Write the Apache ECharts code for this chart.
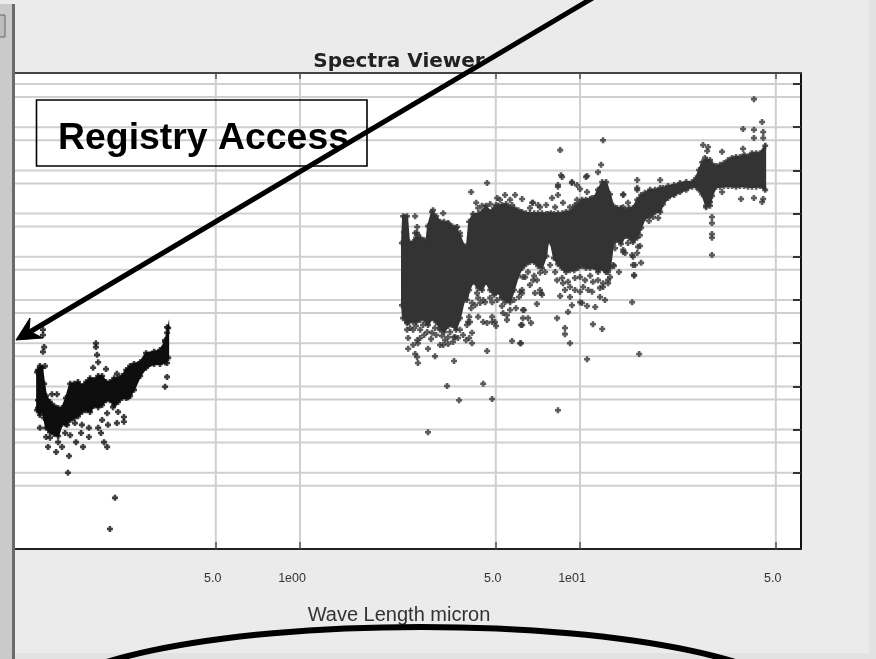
<!DOCTYPE html>
<html><head><meta charset="utf-8">
<style>html,body{margin:0;padding:0;background:#ebebeb}#c{width:876px;height:659px}</style>
<script src="https://cdn.jsdelivr.net/npm/echarts@6/dist/echarts.min.js"></script>
</head><body><div id="c"></div>
<script>
const xTickValues=[0.5,1,5,10,50];
const xTickLabels=['5.0','1e00','5.0','1e01','5.0'];
const yDecades=[1e5,1e4,1e3,1e2,1e1,1,1e-1,1e-2,1e-3,1e-4];
const yHalves=[5e4,5e3,5e2,5e1,5,0.5,5e-2,5e-3,5e-4,5e-5];
// dense parts of the clouds, read column by column (log10 micron, log10 flux)
const denseRightWave=[.364,.368,.382,.389,.404,.414,.429,.443,.45,.457,.471,.486,.5,.514,.529,.543,.557,.571,.586,.596,.604,.618,.636,.65,.664,.679,.693,.707,.721,.736,.75,.764,.779,.793,.807,.821,.836,.85,.864,.879,.886,.896,.907,.921,.936,.95,.964,.979,.993,1.007,1.021,1.036,1.05,1.064,1.079,1.093,1.107,1.118,1.132,1.146,1.161,1.175,1.189,1.204,1.218,1.232,1.25,1.268,1.286,1.296,1.314,1.336,1.357,1.379,1.4,1.414,1.425,1.436,1.45,1.464,1.471,1.486,1.5,1.514,1.529,1.543,1.557,1.571,1.586,1.6,1.614,1.629,1.643,1.661];
const denseRightHigh=[1.32,1.94,1.94,1.34,1.34,1.44,1.44,1.39,1.27,1.71,2.04,1.94,1.81,1.81,1.76,1.71,1.67,1.48,1.25,1.25,1.81,1.99,1.99,2.04,2.18,2.04,2.13,2.18,2.2,2.22,2.13,2.13,2.08,2.04,2.01,2.01,2.01,2.01,2.01,1.99,1.99,2.01,1.99,2.01,2.01,2.04,2.04,2.13,2.22,2.32,2.32,2.34,2.36,2.55,2.73,2.73,2.45,2.18,2.13,2.13,2.08,2.13,2.13,2.32,2.43,2.48,2.55,2.55,2.59,2.59,2.64,2.66,2.71,2.73,2.73,2.82,3.01,3.19,3.24,3.24,3.15,3.1,3.13,3.17,3.24,3.29,3.31,3.31,3.36,3.33,3.4,3.4,3.4,3.57];
const denseRightLow=[-.12,-.42,-.51,-.51,-.46,-.51,-.46,-.42,-.51,-.58,-.42,-.51,-.65,-.74,-.6,-.58,-.69,-.42,0,0,.23,.42,.28,.23,.42,.23,.12,.19,.05,0,-.05,.23,.56,.74,.83,.88,.88,.79,.74,1.02,1.39,1.32,.97,.83,.74,.65,.69,.69,.74,.79,.74,.74,.76,.65,.74,.65,.74,1.3,1.39,1.3,1.48,1.44,1.34,1.44,1.67,1.9,1.94,2.04,2.04,2.22,2.36,2.43,2.5,2.55,2.62,2.62,2.55,2.45,2.18,2.18,2.41,2.62,2.62,2.64,2.64,2.64,2.62,2.64,2.64,2.62,2.62,2.62,2.64,2.55];
const denseLeftWave=[-.939,-.929,-.921,-.914,-.907,-.893,-.879,-.864,-.85,-.836,-.821,-.807,-.793,-.779,-.764,-.75,-.736,-.721,-.707,-.693,-.679,-.664,-.65,-.636,-.621,-.607,-.593,-.571,-.55,-.521,-.5,-.482,-.471];
const denseLeftHigh=[-1.67,-1.53,-1.57,-1.94,-2.22,-2.36,-2.45,-2.5,-2.5,-2.27,-1.94,-1.94,-1.9,-1.99,-1.9,-1.81,-1.85,-1.76,-1.76,-1.9,-1.9,-1.81,-1.81,-1.76,-1.62,-1.53,-1.48,-1.44,-1.23,-1.2,-1.16,-.97,-.65];
const denseLeftLow=[-2.55,-2.66,-2.55,-2.73,-2.96,-3.06,-3.1,-3.15,-2.87,-2.87,-2.78,-2.73,-2.69,-2.59,-2.55,-2.59,-2.45,-2.48,-2.43,-2.32,-2.32,-2.43,-2.36,-2.27,-2.27,-2.22,-2.08,-1.76,-1.57,-1.48,-1.48,-1.44,-1.34];
// single readable points (log10 micron, log10 flux)
const pointsRight=[[.611,2.5],[.411,1.94],[.418,1.69],[.418,1.55],[.411,1.55],[.421,1.5],[.454,1.39],[.375,1.92],[.375,1.78],[.371,1.57],[.375,1.39],[.475,2.08],[.511,2.01],[.529,1.78],[.561,1.69],[.571,1.55],
[.382,-.53],[.404,-.51],[.382,-.69],[.404,-.69],[.429,-.69],[.439,-.58],[.471,-.76],[.454,-.74],[.482,-.65],[.507,-.83],[.468,-.9],[.529,-.86],[.55,-.86],[.571,-.69],[.596,-.58],[.607,-.51],[.614,-.76],[.604,-.88],[.614,-1],[.418,-.93],[.421,-1],[.404,-1.04],[.386,-1.13],[.457,-1.13],[.411,-1.25],[.418,-1.32],[.421,-1.46],[.482,-1.3],[.55,-1.41],[.668,-1.18],[.757,-.95],[.786,-1],[.511,-1.04],[.529,-1.02],[.546,-.97],[.554,-.86],[.525,-1.99],[.654,-1.94],[.568,-2.32],[.686,-2.29],[.457,-3.06],
[.636,-.39],[.654,-.51],[.668,-.53],[.686,-.39],[.686,-.51],[.696,-.51],[.7,-.6],[.643,-.07],[.661,-.05],[.686,-.05],[.632,.16],[.614,-.07],[.611,-.19],[.604,-.39],[.6,-.51],[.725,-.3],[.739,-.35],[.739,-.46],[.789,-.58],[.796,-.42],[.782,.07],[.793,.23],[.721,.07],[.732,-.05],
[.668,2.71],[.704,2.36],[.732,2.43],[.768,2.43],[.793,2.34],[.829,2.25],[.85,2.2],[.9,2.36],[.921,2.43],[.921,2.66],[.936,2.85],[.971,2.71],[.989,2.66],[1.025,2.87],[1.025,2.5],[1.064,2.96],[.989,2.32],[.964,2.15],
[.796,-.23],[.793,-.58],[.814,-.42],[.825,-.53],[.789,-1],[.796,.53],[.846,.46],[.857,.23],[.864,.12],[.846,-.09],[.786,.19],[.918,.46],[.918,-.42],[.946,-.65],[.946,-.79],[.964,-1],[1.025,-1.37],[1.046,-.56],[1.079,-.67],[.964,.07],[.971,-.12],[.957,-.28],[1,-.05],[1.025,-.14],[1.054,-.16],[1.071,.07],[1.1,.39],[1.107,.53],[.921,-2.55],[1.211,-1.25],[1.186,-.05],[1.193,.58],[1.139,.65],[1.118,.81],[1.161,1.09],[1.189,.81],
[1.082,3.7],[.929,3.47],[1.075,3.13],[1.021,2.85],[.932,2.89],[.971,2.73],[1,2.57],[.921,2.62],[.832,2.25],[1.043,2.36],[1.204,2.78],[1.204,2.55],[1.154,2.43],[1.171,2.25],[1.143,2.08],[.893,.81],[.864,1],[.8,-.23],[.861,.16],[.839,.16],[.832,.46],[.804,.53],[.793,.16],[.857,.63],[.939,.39],[.964,.3],[1.007,-.07],[1.089,0],[1.082,.3],[1.1,.46],[1.029,.23],[1.011,.3],[1,.53],[1.046,.42],[1.154,1.16],[1.171,1.32],[1.189,1],[1.207,1.23],[1.196,.81],[1.218,.86],
[1.621,4.65],[1.65,4.12],[1.582,3.96],[1.621,3.94],[1.621,3.75],[1.654,3.89],[1.654,3.75],[1.439,3.59],[1.457,3.54],[1.454,3.45],[1.507,3.43],[1.582,3.5],[1.446,3.29],[1.286,2.78],[1.204,2.59],[1.154,2.45],[1.154,2.15],[1.279,1.9],[1.246,1.83],[1.261,1.92],[1.471,1.92],[1.471,1.78],[1.471,1.53],[1.471,1.44],[1.471,1.04],[1.45,2.15],[1.464,2.27],[1.507,2.5],[1.575,2.34],[1.621,2.36],[1.65,2.27],[1.654,2.34],[1.214,1.25],[1.204,1.09],[1.186,1.04],[1.154,1.11],[1.193,.56],[1.121,.79],[1.089,.69],[1.082,.39],
[.814,.65],[.836,.56],[.821,.35],[.875,.65],[.911,.65],[.936,.51],[.957,.42],[.982,.51],[1.018,.46],[1.036,.56],[1.064,.46],[.982,.23],[.946,.23],[.929,.09],[1,.19],[1.043,.19],[1.071,.28],[1.1,.65],
[.393,-.65],[.414,-.6],[.443,-.81],[.486,-.81],[.5,-.69],[.518,-.93],[.536,-.74],[.564,-.88],[.582,-.81],[.593,-.93],[.386,-.88],[.5,-1.04],[.429,-.88],
[.629,2.25],[.65,2.18],[.679,2.22],[.714,2.32],[.7,2.2],[.75,2.32],[.757,2.2],[.636,2.13],[.857,2.15],[.879,2.2],[.821,2.13],[.911,2.15],[.939,2.25],[.982,2.2],
[.636,.05],[.654,0],[.679,.05],[.704,0],[.721,-.14],[.75,-.23],[.764,0],[.771,-.19],[.625,-.12],[1.125,1.2],[1.214,1.5]];
const pointsLeft=[[-.918,-.69],[-.918,-.81],[-.914,-1.09],[-.918,-1.2],[-.911,-1.53],[-.929,-2.96],[-.9,-3.4],[-.871,-3.52],[-.825,-3.61],[-.829,-4],[-.661,-4.58],[-.679,-5.3],[-.689,-3.4],[-.7,-3.29],[-.711,-3.08],[-.721,-2.96],[-.775,-3.4],[-.8,-3.29],[-.754,-3.17],[-.782,-3.08],[-.754,-2.96],[-.85,-3.4],[-.864,-3.29],[-.907,-3.17],[-.893,-3.19],[-.875,-3.08],[-.839,-3.08],[-.821,-3.13],[-.832,-2.89],[-.804,-2.85],[-.779,-2.89],[-.886,-2.18],[-.868,-2.18],[-.729,-1],[-.729,-1.09],[-.725,-1.27],[-.721,-1.44],[-.739,-1.57],[-.693,-1.6],[-.654,-1.71],[-.65,-2.59],[-.629,-2.71],[-.629,-2.82],[-.654,-2.85],[-.686,-2.89],[-.707,-2.78],[-.689,-2.62],[-.668,-2.48],[-.614,-2.25],[-.475,-.63],[-.475,-.76],[-.482,-.93],[-.475,-1.46],[-.475,-1.78],[-.482,-2.01],[-.936,-1.62],[-.929,-1.81],[-.921,-2.04],[-.936,-2.5],[-.936,-2.32]];

const toReal=p=>[Math.pow(10,p[0]),Math.pow(10,p[1])];
const edgePoints=(wave,high,low)=>wave.flatMap((w,i)=>[[w,high[i]],[w,low[i]]]);
const plus='path://M2 0h3v2h2v3H5v2H2V5H0V2h2z';
const X_MIN=Math.pow(10,-1.018),X_MAX=Math.pow(10,1.789),Y_MIN=Math.pow(10,-5.764),Y_MAX=Math.pow(10,5.255);

function band(wave,high,low,color,name){
  const rows=wave.map((w,i)=>[Math.pow(10,w),Math.pow(10,high[i]),Math.pow(10,low[i])]);
  return {name,type:'custom',coordinateSystem:'cartesian2d',z:3,silent:true,clip:true,
    data:rows,encode:{x:0,y:1},
    renderItem(params,api){
      if(params.dataIndex!==0)return null;
      const top=rows.map(r=>api.coord([r[0],r[1]]));
      const bot=rows.map(r=>api.coord([r[0],r[2]])).reverse();
      return {type:'polygon',shape:{points:top.concat(bot)},style:{fill:color,stroke:color,lineWidth:2}};
    }};
}
const gridStyle={stroke:'#cfcfcf',lineWidth:2};
function gridSeries(values,horizontal){
  return {name:horizontal?'gridHorizontal':'gridVertical',type:'custom',coordinateSystem:'cartesian2d',z:1,silent:true,
    data:values.map(v=>horizontal?[X_MIN,v]:[v,Y_MIN]),encode:{x:0,y:1},
    renderItem(params,api){
      const v=values[params.dataIndex];
      const a=horizontal?api.coord([X_MIN,v]):api.coord([v,Y_MIN]);
      const b=horizontal?api.coord([X_MAX,v]):api.coord([v,Y_MAX]);
      return {type:'line',shape:{x1:a[0],y1:a[1],x2:b[0],y2:b[1]},style:gridStyle};
    }};
}
const chart=echarts.init(document.getElementById('c'),null,{renderer:'canvas'});
chart.setOption({
  animation:false,backgroundColor:'#ebebeb',
  title:{text:'Spectra Viewer',left:394,top:47,textAlign:'center',textStyle:{fontFamily:'DejaVu Sans',fontWeight:'bold',fontSize:20,color:'#222'}},
  grid:{left:15,right:75,top:73,bottom:110,show:true,backgroundColor:'#fff',borderColor:'#333',borderWidth:0},
  xAxis:[{type:'log',logBase:10,min:X_MIN,max:X_MAX,position:'bottom',z:5,
      name:'Wave Length micron',nameLocation:'middle',nameGap:56,
      nameTextStyle:{fontFamily:'Liberation Sans',fontSize:20,color:'#333',padding:[0,18,0,0]},
      axisLine:{show:true,lineStyle:{color:'#222',width:2}},
      axisTick:{show:true,inside:true,length:7,customValues:xTickValues,lineStyle:{color:'#555',width:1.5}},
      minorTick:{show:false},splitLine:{show:false},
      axisLabel:{show:true,margin:23,hideOverlap:false,customValues:xTickValues,
        fontFamily:'Liberation Sans',fontSize:12.5,color:'#333',
        formatter:v=>{const i=xTickValues.findIndex(t=>Math.abs(t-v)<1e-6*t);const s=xTickLabels[i];return s.length>3?'{b|'+s+'}':'{a|'+s+'}';},
        rich:{a:{padding:[0,6,0,0],fontFamily:'Liberation Sans',fontSize:12.5,color:'#333'},b:{padding:[0,16,0,0],fontFamily:'Liberation Sans',fontSize:12.5,color:'#333'}}}},
    {type:'log',logBase:10,min:X_MIN,max:X_MAX,position:'top',z:5,
      axisLine:{show:true,lineStyle:{color:'#444',width:2}},
      axisTick:{show:true,inside:true,length:6,customValues:xTickValues,lineStyle:{color:'#555',width:1.5}},
      axisLabel:{show:false},splitLine:{show:false},minorTick:{show:false}}],
  yAxis:{type:'log',logBase:10,min:Y_MIN,max:Y_MAX,position:'right',z:5,
    axisLine:{show:true,lineStyle:{color:'#111',width:2}},
    axisTick:{show:true,inside:true,length:8,customValues:yDecades,lineStyle:{color:'#333',width:2}},
    axisLabel:{show:false},splitLine:{show:false},minorTick:{show:false}},
  graphic:[
    {type:'rect',z:100,silent:true,shape:{x:0,y:4,width:12,height:655},style:{fill:'#cacaca'}},
    {type:'rect',z:100,silent:true,shape:{x:12,y:4,width:3,height:655},style:{fill:'#6a6a6a'}},
    {type:'rect',z:101,silent:true,shape:{x:-3,y:15,width:8,height:22},style:{fill:'#bdbdbd',stroke:'#666',lineWidth:1}},
    {type:'rect',z:90,silent:true,shape:{x:869,y:0,width:7,height:659},style:{fill:'#e2e2e2'}},
    {type:'rect',z:90,silent:true,shape:{x:15,y:653,width:861,height:6},style:{fill:'#e2e2e2'}},
    {type:'rect',z:110,silent:true,shape:{x:36.5,y:100,width:330.5,height:66},style:{fill:'none',stroke:'#000',lineWidth:1.6}},
    {type:'text',z:111,silent:true,x:58,y:120,style:{text:'Registry Access',font:'bold 37.4px "Liberation Sans"',fill:'#000',textVerticalAlign:'top'}},
    {type:'line',z:112,silent:true,shape:{x1:596,y1:-4,x2:28,y2:333},style:{stroke:'#000',lineWidth:5}},
    {type:'polygon',z:112,silent:true,shape:{points:[[16,340],[30,318],[29,331],[43,338]]},style:{fill:'#000',stroke:'#000',lineWidth:1}},
    {type:'ellipse',z:112,silent:true,shape:{cx:421,cy:707,rx:380,ry:80},style:{fill:'none',stroke:'#000',lineWidth:6}}
  ],
  series:[
    gridSeries(xTickValues,false),
    gridSeries(yDecades.concat(yHalves),true),
    band(denseRightWave,denseRightHigh,denseRightLow,'#333333','denseRight'),
    band(denseLeftWave,denseLeftHigh,denseLeftLow,'#0e0e0e','denseLeft'),
    {name:'pointsRight',type:'scatter',z:4,silent:true,symbol:plus,symbolSize:6,itemStyle:{color:'#333333'},
      data:pointsRight.concat(edgePoints(denseRightWave,denseRightHigh,denseRightLow)).map(toReal)},
    {name:'pointsLeft',type:'scatter',z:4,silent:true,symbol:plus,symbolSize:6,itemStyle:{color:'#0e0e0e'},
      data:pointsLeft.concat(edgePoints(denseLeftWave,denseLeftHigh,denseLeftLow)).map(toReal)}
  ]
});
</script></body></html>
